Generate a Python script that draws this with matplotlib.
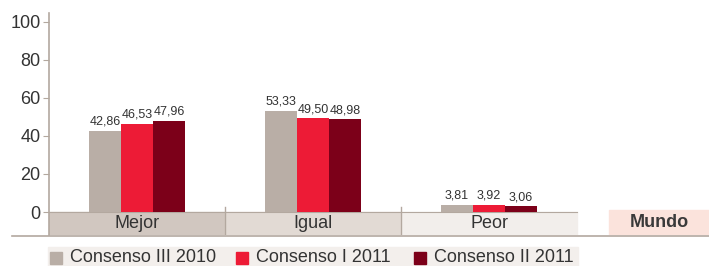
import matplotlib.pyplot as plt
from matplotlib.patches import Rectangle
from matplotlib.lines import Line2D

categorias = ["Mejor", "Igual", "Peor"]
series = ["Consenso III 2010", "Consenso I 2011", "Consenso II 2011"]
valores = [
    [42.86, 53.33, 3.81],
    [46.53, 49.50, 3.92],
    [47.96, 48.98, 3.06],
]
colores = ["#b9aea6", "#ed1b36", "#7c0019"]
bandas = ["#d1c7c0", "#e2dad4", "#f2eeeb"]

plt.rcParams['font.family'] = ['Liberation Sans', 'DejaVu Sans']
texto = "#333333"
linea = "#b3a89f"

fig = plt.figure(figsize=(7.09, 2.66), dpi=100)
W, H = 709, 266
ax = fig.add_axes([49 / W, (H - 235) / H, 660 / W, 222 / H])

ancho = 32 / 176
x = list(range(len(categorias)))
for i in range(len(series)):
    pos = [xi + (i - 1) * ancho for xi in x]
    barras = ax.bar(pos, valores[i], width=ancho, color=colores[i], zorder=3)
    for b, v in zip(barras, valores[i]):
        ax.text(b.get_x() + b.get_width() / 2, v + 1.5, f"{v:.2f}".replace(".", ","),
                ha="center", va="bottom", fontsize=9, color=texto,
                family=['Liberation Sans Narrow', 'Liberation Sans', 'DejaVu Sans'])

y0 = -12.1
for xi, cat in enumerate(categorias):
    ax.add_patch(Rectangle((xi - 0.5, y0), 1, -y0, color=bandas[xi], zorder=1))
    ax.text(xi, y0 / 2, cat, ha="center", va="center", fontsize=13, color=texto)
for xi in [0.5, 1.5]:
    ax.plot([xi, xi], [y0, 2.5], color=linea, lw=1, zorder=2)
ax.plot([-0.5, 2.5], [0, 0], color=linea, lw=0.8, zorder=2)

# recuadro Mundo
ax.add_patch(Rectangle((2.68, y0), 0.6, -y0 + 1, color="#fbe3dc", zorder=1))
ax.text(2.965, y0 / 2 + 0.5, "Mundo", ha="center", va="center", fontsize=13,
        color="#3a3a3a", fontweight="bold")

ax.set_xlim(-0.5, 3.25)
ax.set_ylim(y0, 104.7)
ax.set_yticks([0, 20, 40, 60, 80, 100])
ax.tick_params(axis="y", length=4, color=linea, labelsize=13, labelcolor=texto, pad=2)
ax.set_xticks([])
for s in ["top", "right", "bottom"]:
    ax.spines[s].set_visible(False)
ax.spines["left"].set_color(linea)
ax.spines["left"].set_linewidth(1.2)

fig.add_artist(Line2D([12 / W, 1], [(H - 235.5) / H] * 2, color=linea, lw=1.2))

# leyenda
fig.add_artist(Rectangle((48 / W, 0), 530 / W, 19 / H, color="#f3efec"))
xs = [50, 236, 414]
for xi, nombre, c in zip(xs, series, colores):
    fig.add_artist(Rectangle((xi / W, 2 / H), 12 / W, 12 / H, color=c))
    fig.text((xi + 20) / W, 8 / H, nombre, ha="left", va="center",
             fontsize=13, color=texto)

plt.savefig("out.png", dpi=100)
